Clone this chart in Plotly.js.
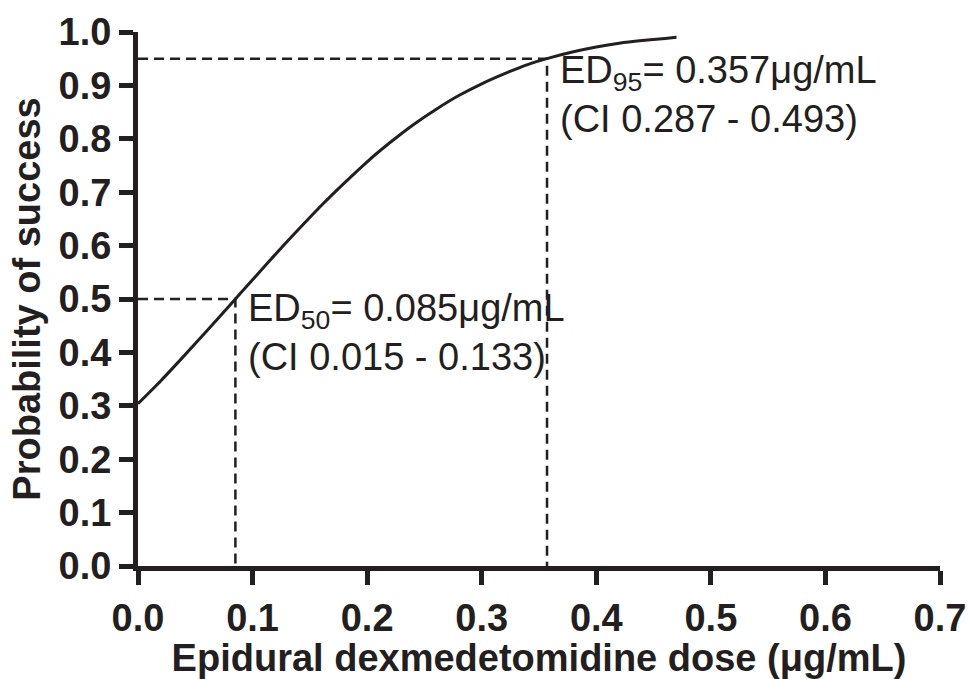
<!DOCTYPE html>
<html>
<head>
<meta charset="utf-8">
<script src="https://cdn.plot.ly/plotly-3.0.1.min.js"></script>
<style>
html,body{margin:0;padding:0;background:#fff;}
#chart{width:969px;height:679px;}
</style>
</head>
<body>
<div id="chart"></div>
<script>
// Dose (µg/mL) and fitted probability of success
const dose = [0, 0.02, 0.04, 0.06, 0.08, 0.10, 0.12, 0.14, 0.16, 0.18, 0.20, 0.22, 0.24, 0.26, 0.28, 0.30, 0.32, 0.34, 0.36, 0.38, 0.40, 0.42, 0.44, 0.46, 0.47];
const prob = [0.304, 0.347, 0.393, 0.440, 0.488, 0.536, 0.584, 0.630, 0.675, 0.717, 0.757, 0.793, 0.826, 0.855, 0.881, 0.903, 0.922, 0.939, 0.952, 0.963, 0.972, 0.979, 0.984, 0.988, 0.990];
// Effective doses
const edLabels = ["ED50", "ED95"];
const edDose = [0.085, 0.357];
const edProb = [0.5, 0.95];
const edText = [
  "ED<sub>50</sub>= 0.085μg/mL<br>(CI 0.015 - 0.133)",
  "ED<sub>95</sub>= 0.357μg/mL<br>(CI 0.287 - 0.493)"
];
const xTicks = [0, 0.1, 0.2, 0.3, 0.4, 0.5, 0.6, 0.7];
const yTicks = [0, 0.1, 0.2, 0.3, 0.4, 0.5, 0.6, 0.7, 0.8, 0.9, 1.0];

const FONT = "Liberation Sans, Arial, Helvetica, sans-serif";

const traces = [];
edDose.forEach((d, i) => {
  traces.push({
    x: [0, d, d], y: [edProb[i], edProb[i], 0],
    mode: "lines", type: "scatter", hoverinfo: "skip", showlegend: false,
    line: {color: "#231f20", width: 2.5, dash: "10px,6px"}
  });
});
traces.push({
  x: dose, y: prob, mode: "lines", type: "scatter", showlegend: false,
  line: {color: "#231f20", width: 3, shape: "spline", smoothing: 0.6}
});

const annX = [0.094, 0.367];
const annY = [0.437, 0.883];
const annotations = edText.map((t, i) => ({
  x: annX[i], y: annY[i], xref: "x", yref: "y",
  text: t, showarrow: false, xanchor: "left", yanchor: "middle", align: "left",
  font: {family: FONT, size: 38, color: "#231f20"}
}));

const layout = {
  width: 969, height: 679,
  margin: {l: 138, r: 29, t: 32, b: 113, pad: 0},
  paper_bgcolor: "#fff", plot_bgcolor: "#fff",
  showlegend: false,
  font: {family: FONT, color: "#231f20"},
  xaxis: {
    range: [0, 0.7], tickvals: xTicks, ticktext: xTicks.map(v => v.toFixed(1)),
    showgrid: false, zeroline: false, showline: true, linecolor: "#231f20", linewidth: 5,
    ticks: "outside", ticklen: 14, tickwidth: 5, tickcolor: "#231f20",
    tickfont: {family: FONT, size: 38, color: "#231f20", weight: "bold"},
    title: {text: "<b>Epidural dexmedetomidine dose (μg/mL)</b>", font: {family: FONT, size: 38, color: "#231f20"}, standoff: 4}
  },
  yaxis: {
    range: [0, 1.0], tickvals: yTicks, ticktext: yTicks.map(v => v.toFixed(1)),
    showgrid: false, zeroline: false, showline: true, linecolor: "#231f20", linewidth: 5,
    ticks: "outside", ticklen: 14, tickwidth: 5, tickcolor: "#231f20",
    tickfont: {family: FONT, size: 38, color: "#231f20", weight: "bold"},
    title: {text: "<b>Probability of success</b>", font: {family: FONT, size: 38, color: "#231f20"}, standoff: 8}
  },
  annotations: annotations
};

Plotly.newPlot("chart", traces, layout, {displayModeBar: false, staticPlot: true});
</script>
</body>
</html>
